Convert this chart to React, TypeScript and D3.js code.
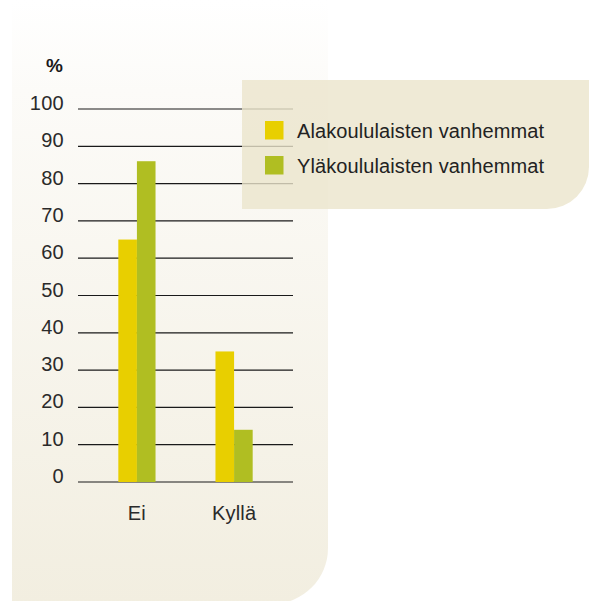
import React from "react";
import * as d3 from "d3";

const categories = ["Ei", "Kyllä"];
const seriesNames = ["Alakoululaisten vanhemmat", "Yläkoululaisten vanhemmat"];
const alakoulu = [65, 35];
const ylakoulu = [86, 14];
const ticks = [0, 10, 20, 30, 40, 50, 60, 70, 80, 90, 100];
const colors = ["#e8cf00", "#b0be22"];

const W = 589;
const H = 601;
const FONT = "'Liberation Sans', Arial, Helvetica, sans-serif";

export default function App() {
  const y = d3.scaleLinear().domain([0, 100]).range([482, 109]);
  const x0 = d3.scaleBand().domain(categories).range([78, 293]).paddingInner(0.617).paddingOuter(0.415);
  const x1 = d3.scaleBand().domain(seriesNames).range([0, x0.bandwidth()]);
  const series = [alakoulu, ylakoulu];

  const panelL = 12, panelR = 328, panelB = 604, r = 56;
  const panelPath = `M${panelL},0 H${panelR} V${panelB - r} A${r},${r} 0 0 1 ${panelR - r},${panelB} H${panelL} Z`;
  const lgL = 242, lgT = 80, lgR = 589, lgB = 209, lr = 42;
  const legendPath = `M${lgL},${lgT} H${lgR} V${lgB - lr} A${lr},${lr} 0 0 1 ${lgR - lr},${lgB} H${lgL} Z`;

  return (
    <svg width={W} height={H} style={{ position: "absolute", left: 0, top: 0, display: "block" }} fontFamily={FONT}>
      <defs>
        <linearGradient id="panelGrad" x1="0" y1="0" x2="0" y2="1">
          <stop offset="0" stopColor="#ffffff" />
          <stop offset="0.15" stopColor="#fcfbf8" />
          <stop offset="1" stopColor="#f2eee0" />
        </linearGradient>
      </defs>
      <rect x={0} y={0} width={W} height={H} fill="#ffffff" />
      <path d={panelPath} fill="url(#panelGrad)" />

      {ticks.map((t) => (
        <g key={t}>
          <line x1={78} x2={293} y1={y(t)} y2={y(t)} stroke="#1a1a1a" strokeWidth={1.2} />
          <text x={64} y={y(t) + 1} textAnchor="end" fontSize={20} letterSpacing={0.3} fill="#2a2a2a">
            {t}
          </text>
        </g>
      ))}
      <text x={63} y={72} textAnchor="end" fontSize={19} fontWeight="bold" fill="#1a1a1a">
        %
      </text>

      {categories.map((c, i) => (
        <g key={c}>
          {series.map((s, j) => (
            <rect
              key={j}
              x={(x0(c) as number) + (x1(seriesNames[j]) as number)}
              y={y(s[i])}
              width={x1.bandwidth()}
              height={y(0) - y(s[i])}
              fill={colors[j]}
            />
          ))}
          <text x={(x0(c) as number) + x0.bandwidth() / 2} y={520} textAnchor="middle" fontSize={20} letterSpacing={0.2} fill="#2a2a2a">
            {c}
          </text>
        </g>
      ))}

      <path d={legendPath} fill="#ebe5cc" fillOpacity={0.8} />
      {seriesNames.map((n, i) => (
        <g key={n}>
          <rect x={265} y={121 + i * 35} width={18.5} height={18.5} fill={colors[i]} />
          <text x={297} y={138 + i * 35} fontSize={20} letterSpacing={0.1} fill="#222">
            {n}
          </text>
        </g>
      ))}
    </svg>
  );
}
